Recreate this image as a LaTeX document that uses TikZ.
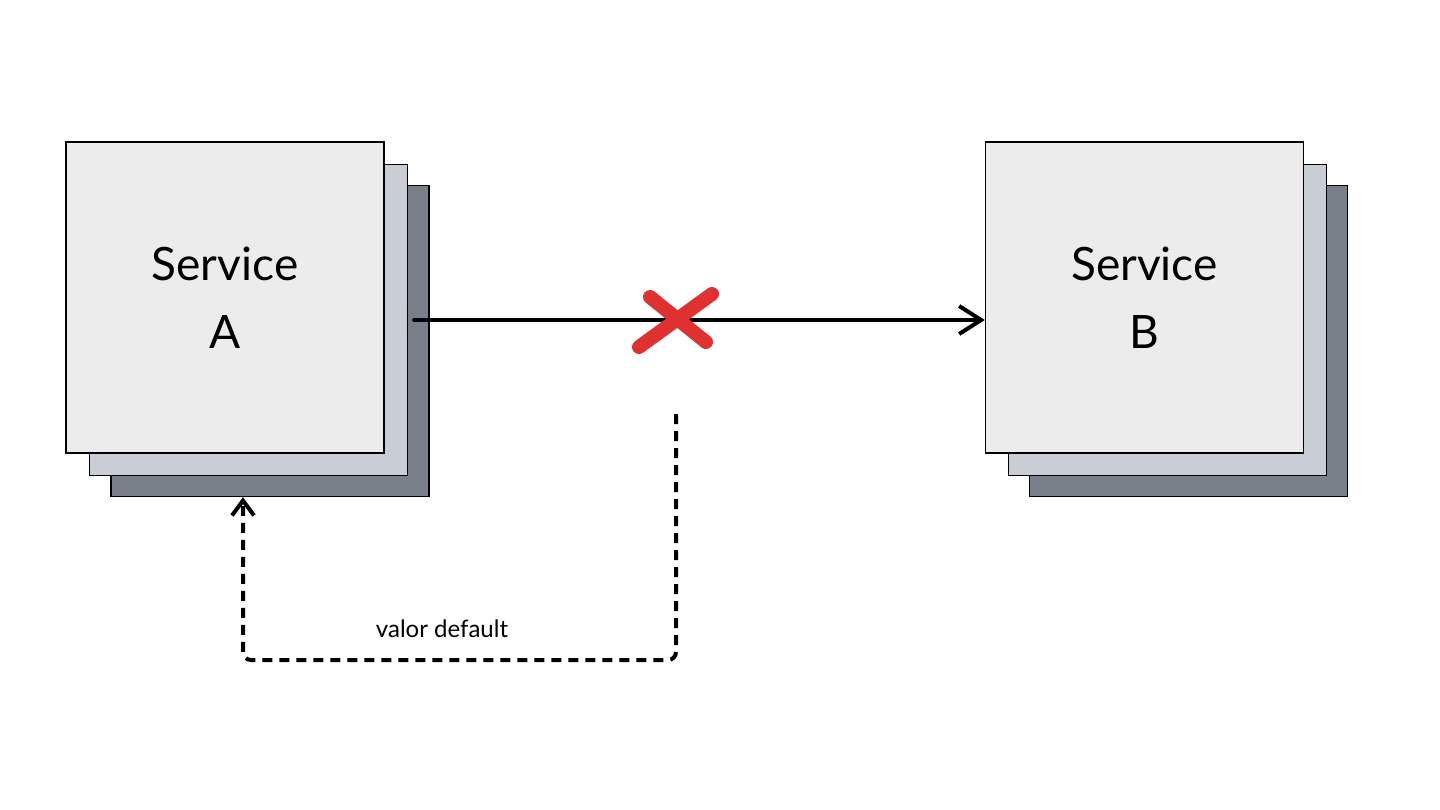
\documentclass[tikz,border=0pt]{standalone}
\usepackage{fontspec}
\setmainfont{Lato}
\usetikzlibrary{arrows.meta,positioning}
\definecolor{FrontGray}{HTML}{ECECEC}
\definecolor{MidGray}{HTML}{C9CED6}
\definecolor{BackGray}{HTML}{7A8089}
\definecolor{CrossRed}{HTML}{E03131}

\begin{document}
\begin{tikzpicture}[x=1pt,y=-1pt,
  layer/.style={draw=black,line width=1.3pt,minimum width=318pt,minimum height=311pt,inner sep=0pt},
  front/.style={layer,fill=FrontGray,align=center,font=\fontsize{46}{68}\selectfont},
  mid/.style={layer,fill=MidGray},
  back/.style={layer,fill=BackGray},
  lien/.style={-{Straight Barb[length=22pt,width=28pt]},line width=4pt,line cap=round},
  retour/.style={-{Straight Barb[length=15pt,width=22pt]},line width=4pt,dash pattern=on 10pt off 7pt,rounded corners=8pt},
  xmark/.style={CrossRed,line width=14pt,line cap=round}]
  \useasboundingbox (0,0) rectangle (1440,810);
  % Service A
  \node[back] (aback) at (270,341) {};
  \node[mid] (amid) at (248.5,320) {};
  \node[front] (a) at (225,297.5) {Service\\A};
  % Service B
  \node[back] (bback) at (1188.5,341) {};
  \node[mid] (bmid) at (1167.5,320) {};
  \node[front] (b) at (1144.5,297.5) {Service\\B};
  % appel
  \draw[lien] ([xshift=6pt]amid.east) -- (b.west |- amid.east);
  \coordinate (cross) at (676,321);
  \draw[xmark] (cross) +(-26,-24) -- +(30,21);
  \draw[xmark] (cross) +(36,-27) -- +(-37,26);
  % retour par defaut
  \coordinate (dstart) at (676,414);
  \draw[retour] (dstart) -- (676,660) -- ([xshift=-27pt]aback.south |- 0,660) -- ([xshift=-27pt]aback.south);
  \node (label) at (442,629) {\fontsize{24}{28}\selectfont valor default};
\end{tikzpicture}
\end{document}
